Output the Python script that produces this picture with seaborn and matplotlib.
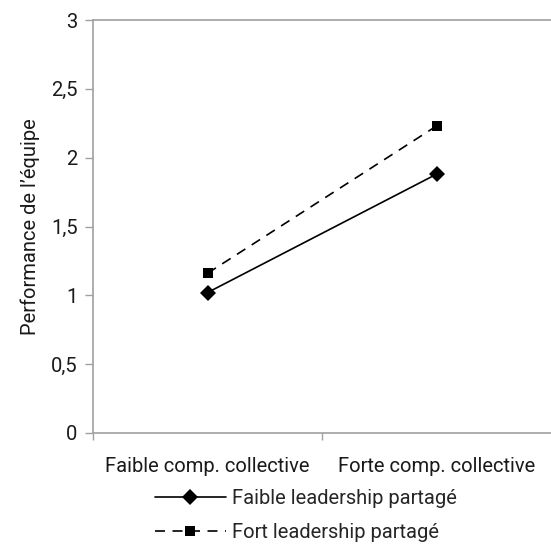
import pandas as pd
import matplotlib
matplotlib.use("Agg")
import matplotlib.pyplot as plt
import seaborn as sns

# values
categories = ["Faible comp. collective", "Forte comp. collective"]
groups = ["Faible leadership partagé", "Fort leadership partagé"]
faible_values = [1.02, 1.88]
fort_values = [1.16, 2.23]
ytick_values = [0, 0.5, 1, 1.5, 2, 2.5, 3]
ytick_labels = ["0", "0,5", "1", "1,5", "2", "2,5", "3"]

df = pd.DataFrame({
    "comp": categories * 2,
    "perf": faible_values + fort_values,
    "leadership": [groups[0]] * 2 + [groups[1]] * 2,
})

sns.set_style("white")
plt.rcParams["font.family"] = ["Roboto", "DejaVu Sans"]

FS = 14.5
TXT = "#1a1a1a"
GREY = "#a0a0a0"


def style_line(line):
    line.set_linewidth(1.2)
    line.set_markeredgewidth(0)
    if line.get_marker() == "D":
        line.set_markersize(8)
    elif line.get_marker() == "s":
        line.set_markersize(7)
        line.set_dashes((6, 4.5))


fig = plt.figure(figsize=(5.51, 5.46), dpi=100)
ax = fig.add_axes([93 / 551, 1 - 433 / 546, 1 - 93 / 551, (433 - 20) / 546])

sns.pointplot(
    data=df, x="comp", y="perf", hue="leadership", hue_order=groups,
    order=categories, palette=["black", "black"], markers=["D", "s"],
    linestyles=["-", "--"], errorbar=None, ax=ax,
)
for line in ax.lines:
    style_line(line)

ax.set_xlim(-0.5, 1.5)
ax.set_ylim(0, 3)
ax.set_yticks(ytick_values)
ax.set_yticklabels(ytick_labels)
ax.set_xticks([0, 1])
ax.set_xticklabels(categories)
ax.set_xticks([-0.5, 0.5], minor=True)
ax.tick_params(axis="x", which="major", length=0, pad=17, labelsize=FS, colors=TXT)
ax.tick_params(axis="x", which="minor", length=5, width=1, color=GREY, bottom=True)
ax.tick_params(axis="y", length=6, width=1, color=GREY, labelsize=FS,
               labelcolor=TXT, left=True, pad=5)

ax.set_xlabel("")
ax.set_ylabel("Performance de l’équipe", fontsize=FS, color=TXT, labelpad=8)

for side in ["left", "bottom", "top"]:
    ax.spines[side].set_visible(True)
    ax.spines[side].set_color(GREY)
    ax.spines[side].set_linewidth(1.2)
ax.spines["right"].set_visible(False)

handles, labels = ax.get_legend_handles_labels()
for h in handles:
    style_line(h)
ax.legend(handles, labels, loc="upper left", bbox_to_anchor=(147 / 551, 1 - 481 / 546),
          bbox_transform=fig.transFigure, frameon=False, fontsize=FS,
          handlelength=3.5, handletextpad=0.3, labelspacing=0.75, numpoints=1,
          borderaxespad=0)

fig.savefig("out.png", dpi=100)
